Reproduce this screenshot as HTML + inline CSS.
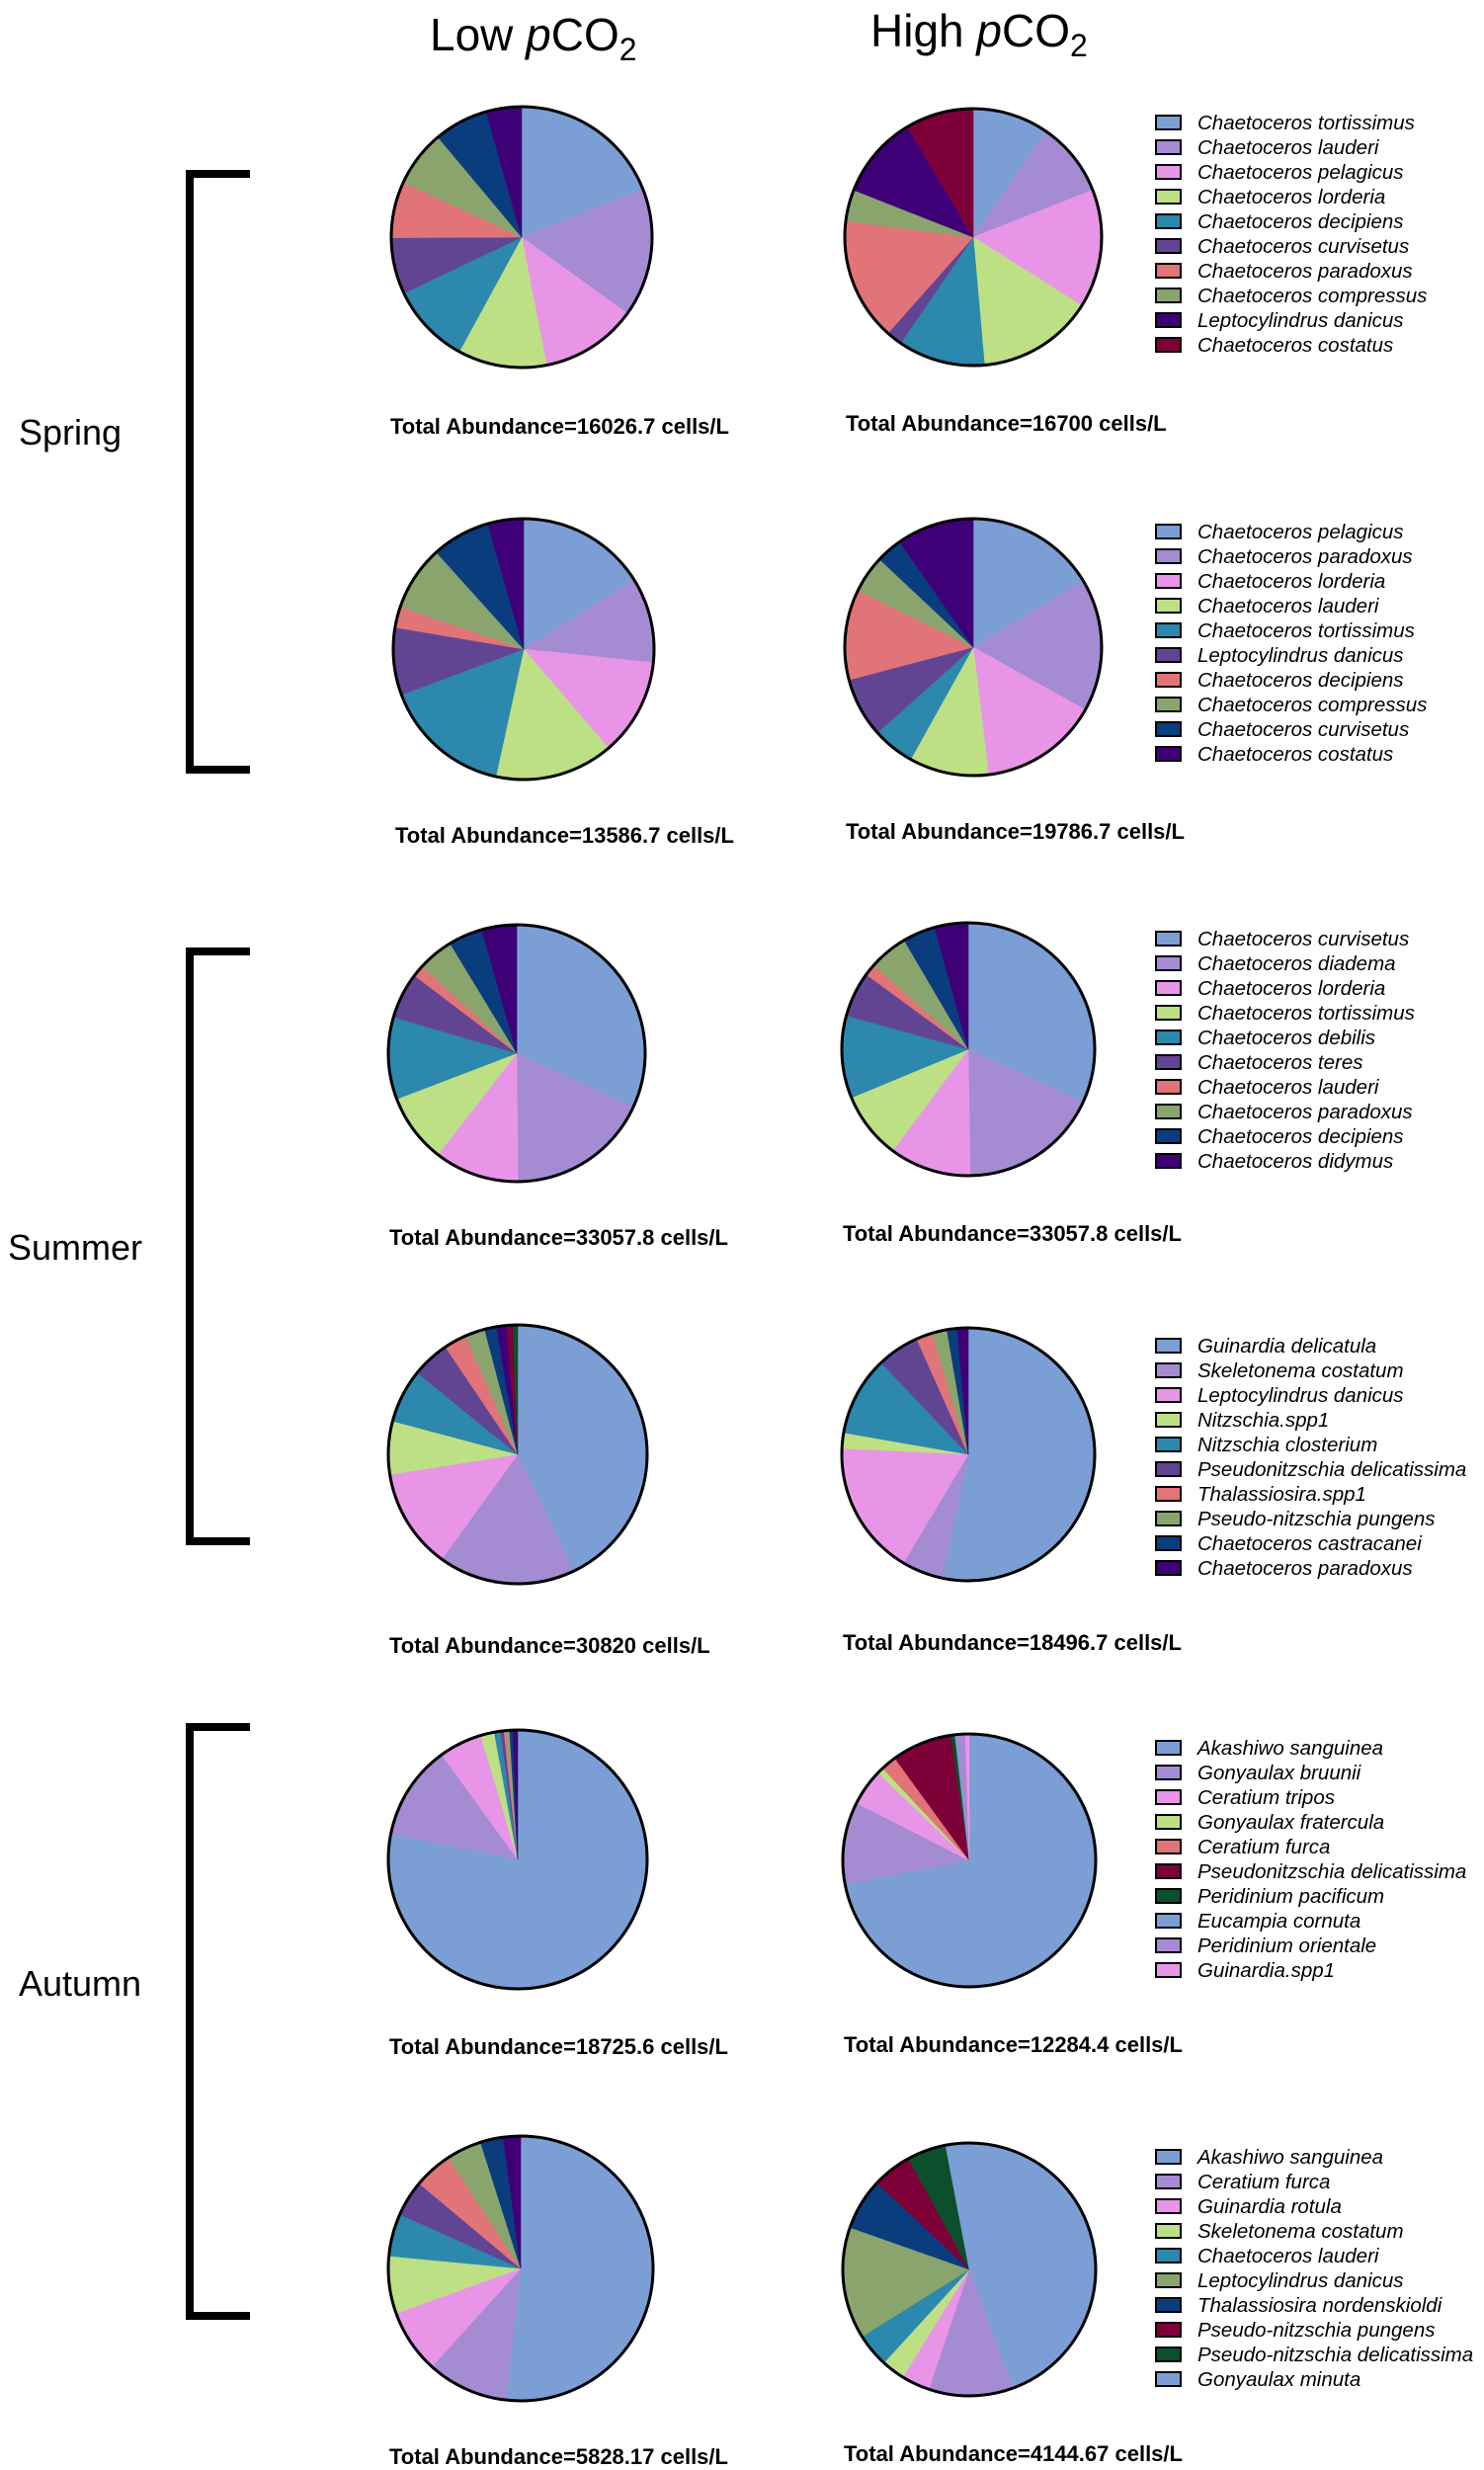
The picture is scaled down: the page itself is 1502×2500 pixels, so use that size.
<!DOCTYPE html>
<html><head><meta charset="utf-8"><style>
html,body{margin:0;padding:0;background:#fff;}
svg{display:block;}
text{font-family:"Liberation Sans",sans-serif;}
</style></head><body>
<svg id="chart" width="1502" height="2500" viewBox="0 0 1502 2500" xmlns="http://www.w3.org/2000/svg">
<g>
<text x="435" y="51" font-size="46">Low <tspan font-style="italic">p</tspan>CO<tspan font-size="32" dy="10">2</tspan></text>
<text x="881" y="47" font-size="46">High <tspan font-style="italic">p</tspan>CO<tspan font-size="32" dy="10">2</tspan></text>
</g>
<g>
<path d="M253,176 H192 V779 H253" fill="none" stroke="#000" stroke-width="8"/>
<path d="M253,963 H192 V1560 H253" fill="none" stroke="#000" stroke-width="8"/>
<path d="M253,1748 H192 V2344 H253" fill="none" stroke="#000" stroke-width="8"/>
<text x="19" y="450" font-size="36">Spring</text>
<text x="8" y="1275" font-size="36">Summer</text>
<text x="19" y="2020" font-size="36">Autumn</text>
</g>
<g id="pies"></g>
</svg>
<script>
const BL='#7b9fd4',LV='#a48bd2',PK='#e895e8',GR='#bde085',TL='#2c88ad',PU='#624592',SA='#e07478',SG='#8aa46e',NV='#0a3d7e',DP='#3f0077',MR='#7d0038',DG='#0c4f2c';

// Spring row 1
const spring1Names=['Chaetoceros tortissimus','Chaetoceros lauderi','Chaetoceros pelagicus','Chaetoceros lorderia','Chaetoceros decipiens','Chaetoceros curvisetus','Chaetoceros paradoxus','Chaetoceros compressus','Leptocylindrus danicus','Chaetoceros costatus'];
const spring1LegendColors=[BL,LV,PK,GR,TL,PU,SA,SG,DP,MR];
const spring1LowValues=[19,16,12,11,10,7,7,7,6.7,4.4];
const spring1LowColors=[BL,LV,PK,GR,TL,PU,SA,SG,NV,DP];
const spring1HighValues=[9.7,9.4,15,14.7,11,2,15.5,4,10.5,8.6];
const spring1HighColors=[BL,LV,PK,GR,TL,PU,SA,SG,DP,MR];
const spring1Totals=['Total Abundance=16026.7 cells/L','Total Abundance=16700 cells/L'];

// Spring row 2
const spring2Names=['Chaetoceros pelagicus','Chaetoceros paradoxus','Chaetoceros lorderia','Chaetoceros lauderi','Chaetoceros tortissimus','Leptocylindrus danicus','Chaetoceros decipiens','Chaetoceros compressus','Chaetoceros curvisetus','Chaetoceros costatus'];
const spring2LegendColors=[BL,LV,PK,GR,TL,PU,SA,SG,NV,DP];
const spring2LowValues=[16,10.5,12,14.6,15.8,8.3,2.6,8,7.2,4.4];
const spring2LowColors=[BL,LV,PK,GR,TL,PU,SA,SG,NV,DP];
const spring2HighValues=[16.4,16.7,15,10,5.3,7.5,11.4,4.7,3.3,9.7];
const spring2HighColors=[BL,LV,PK,GR,TL,PU,SA,SG,NV,DP];
const spring2Totals=['Total Abundance=13586.7 cells/L','Total Abundance=19786.7 cells/L'];

// Summer row 1
const summer1Names=['Chaetoceros curvisetus','Chaetoceros diadema','Chaetoceros lorderia','Chaetoceros tortissimus','Chaetoceros debilis','Chaetoceros teres','Chaetoceros lauderi','Chaetoceros paradoxus','Chaetoceros decipiens','Chaetoceros didymus'];
const summer1LegendColors=[BL,LV,PK,GR,TL,PU,SA,SG,NV,DP];
const summer1LowValues=[32,18,10.7,8.7,10.4,5.8,1.5,4.5,4.3,4.4];
const summer1LowColors=[BL,LV,PK,GR,TL,PU,SA,SG,NV,DP];
const summer1HighValues=[32,18,10.5,8.6,10.6,5.8,1.5,5,4.2,4.3];
const summer1HighColors=[BL,LV,PK,GR,TL,PU,SA,SG,NV,DP];
const summer1Totals=['Total Abundance=33057.8 cells/L','Total Abundance=33057.8 cells/L'];

// Summer row 2
const summer2Names=['Guinardia delicatula','Skeletonema costatum','Leptocylindrus danicus','Nitzschia.spp1','Nitzschia closterium','Pseudonitzschia delicatissima','Thalassiosira.spp1','Pseudo-nitzschia pungens','Chaetoceros castracanei','Chaetoceros paradoxus'];
const summer2LegendColors=[BL,LV,PK,GR,TL,PU,SA,SG,NV,DP];
const summer2LowValues=[42.8,17,12.5,6.6,6.7,4.7,2.8,2.5,1.5,1.2,0.8,0.6];
const summer2LowColors=[BL,LV,PK,GR,TL,PU,SA,SG,NV,DP,MR,DG];
const summer2HighValues=[53.4,5.3,17.2,2,10.2,5.4,2.1,1.9,1.3,1.4];
const summer2HighColors=[BL,LV,PK,GR,TL,PU,SA,SG,NV,DP];
const summer2Totals=['Total Abundance=30820 cells/L','Total Abundance=18496.7 cells/L'];

// Autumn row 1
const autumn1Names=['Akashiwo sanguinea','Gonyaulax bruunii','Ceratium tripos','Gonyaulax fratercula','Ceratium furca','Pseudonitzschia delicatissima','Peridinium pacificum','Eucampia cornuta','Peridinium orientale','Guinardia.spp1'];
const autumn1LegendColors=[BL,LV,PK,GR,SA,MR,DG,BL,LV,PK];
const autumn1LowValues=[78.2,11.8,5.4,1.7,0.8,0.4,0.3,0.4,0.4,0.6];
const autumn1LowColors=[BL,LV,PK,GR,TL,PU,SA,SG,NV,DP];
const autumn1HighValues=[72,10.5,4.7,0.8,2,7.7,0.5,0.3,1,0.5];
const autumn1HighColors=[BL,LV,PK,GR,SA,MR,DG,BL,LV,PK];
const autumn1Totals=['Total Abundance=18725.6 cells/L','Total Abundance=12284.4 cells/L'];

// Autumn row 2
const autumn2Names=['Akashiwo sanguinea','Ceratium furca','Guinardia rotula','Skeletonema costatum','Chaetoceros lauderi','Leptocylindrus danicus','Thalassiosira nordenskioldi','Pseudo-nitzschia pungens','Pseudo-nitzschia delicatissima','Gonyaulax minuta'];
const autumn2LegendColors=[BL,LV,PK,GR,TL,SG,NV,MR,DG,BL];
const autumn2LowValues=[51.8,9.9,7.8,7,5.2,4.4,4.7,4.3,2.8,2.1];
const autumn2LowColors=[BL,LV,PK,GR,TL,PU,SA,SG,NV,DP];
const autumn2HighValues=[44.4,10.8,3.6,3,4.3,14.3,6.6,5,5,3];
const autumn2HighColors=[BL,LV,PK,GR,TL,SG,NV,MR,DG,BL];
const autumn2Totals=['Total Abundance=5828.17 cells/L','Total Abundance=4144.67 cells/L'];

const rows=[
 {id:'spring-1',names:spring1Names,lc:spring1LegendColors,low:[spring1LowValues,spring1LowColors],high:[spring1HighValues,spring1HighColors],tot:spring1Totals,
  lowC:[528,240,132],highC:[985,240,130],labY:[431,428],labX:[395,856],legY:124},
 {id:'spring-2',names:spring2Names,lc:spring2LegendColors,low:[spring2LowValues,spring2LowColors],high:[spring2HighValues,spring2HighColors],tot:spring2Totals,
  lowC:[530,657,132],highC:[985,655,130],labY:[845,841],labX:[400,856],legY:538},
 {id:'summer-1',names:summer1Names,lc:summer1LegendColors,low:[summer1LowValues,summer1LowColors],high:[summer1HighValues,summer1HighColors],tot:summer1Totals,
  lowC:[523,1066,130],highC:[980,1062,128],labY:[1252,1248],labX:[394,853],legY:950},
 {id:'summer-2',names:summer2Names,lc:summer2LegendColors,low:[summer2LowValues,summer2LowColors],high:[summer2HighValues,summer2HighColors],tot:summer2Totals,
  lowC:[524,1472,131],highC:[980,1472,128],labY:[1665,1662],labX:[394,853],legY:1362},
 {id:'autumn-1',names:autumn1Names,lc:autumn1LegendColors,low:[autumn1LowValues,autumn1LowColors],high:[autumn1HighValues,autumn1HighColors],tot:autumn1Totals,
  lowC:[524,1882,131],highC:[981,1883,128],labY:[2071,2069],labX:[394,854],legY:1769},
 {id:'autumn-2',names:autumn2Names,lc:autumn2LegendColors,low:[autumn2LowValues,autumn2LowColors],high:[autumn2HighValues,autumn2HighColors],tot:autumn2Totals,
  lowC:[527,2296,134],highC:[981,2297,128],labY:[2486,2483],labX:[394,854],legY:2183}
];

const NS='http://www.w3.org/2000/svg';
const root=document.getElementById('pies');
function mk(tag,attrs,parent){const e=document.createElementNS(NS,tag);for(const k in attrs)e.setAttribute(k,attrs[k]);parent.appendChild(e);return e;}
function angleScale(values){const s=values.reduce((a,b)=>a+b,0);return v=>v/s*Math.PI*2;}
function pt(cx,cy,r,a){return [cx+r*Math.sin(a),cy-r*Math.cos(a)];}

function drawPie(g,values,colors,c,name){
  const [cx,cy,r]=c;const sc=angleScale(values);let a=0;
  values.forEach((v,i)=>{
    const a2=a+sc(v);const p1=pt(cx,cy,r,a),p2=pt(cx,cy,r,a2);
    const large=(a2-a)>Math.PI?1:0;
    const p=mk('path',{d:`M${cx},${cy} L${p1[0]},${p1[1]} A${r},${r} 0 ${large} 1 ${p2[0]},${p2[1]} Z`,fill:colors[i],stroke:colors[i],'stroke-width':0.6},g);
    
    
    a=a2;
  });
  const o=mk('circle',{cx:cx,cy:cy,r:r,fill:'none',stroke:'#000','stroke-width':3},g);
  
  
}

rows.forEach(row=>{
  const g=mk('g',{},root);
  
  
  drawPie(g,row.low[0],row.low[1],row.lowC,row.id+'-low-pie');
  drawPie(g,row.high[0],row.high[1],row.highC,row.id+'-high-pie');
  ['low','high'].forEach((k,j)=>{
    const t=mk('text',{x:row.labX[j],y:row.labY[j]+8,'font-size':22,'font-weight':'bold'},g);
    t.textContent=row.tot[j];
    
    
  });
  const lg=mk('g',{},g);
  
  
  row.names.forEach((n,i)=>{
    const y=row.legY+i*25;
    const e=mk('g',{},lg);
    
    
    mk('rect',{x:1170,y:y-7,width:25,height:14,fill:row.lc[i],stroke:'#000','stroke-width':2},e);
    const t=mk('text',{x:1212,y:y+7,'font-size':20.5,'font-style':'italic'},e);
    t.textContent=n;
  });
});
</script>
</body></html>
